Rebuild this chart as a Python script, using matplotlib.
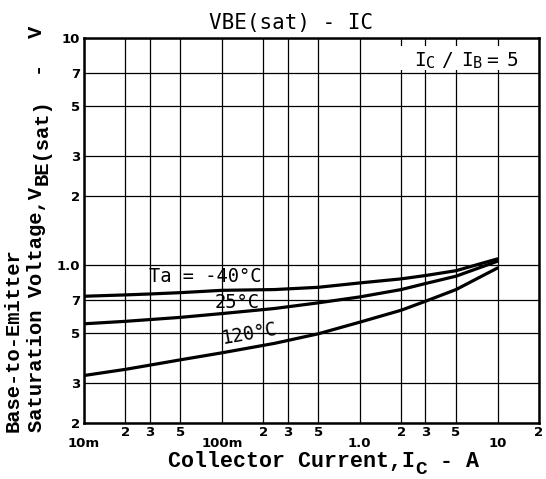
import numpy as np
import matplotlib
matplotlib.use("Agg")
import matplotlib.pyplot as plt
from matplotlib.transforms import IdentityTransform
from matplotlib.patches import Rectangle

# Data
ic = [0.01, 0.02, 0.03, 0.05, 0.1, 0.24, 0.5, 1.0, 2.0, 3.0, 5.0, 10.0]
vbe_m40 = [0.725, 0.735, 0.742, 0.752, 0.770, 0.776, 0.794, 0.830, 0.865, 0.895, 0.940, 1.06]
vbe_25 = [0.548, 0.562, 0.572, 0.585, 0.608, 0.640, 0.678, 0.720, 0.776, 0.825, 0.889, 1.035]
vbe_120 = [0.324, 0.345, 0.360, 0.380, 0.408, 0.449, 0.495, 0.557, 0.629, 0.689, 0.776, 0.966]

x_major = [0.01, 0.1, 1.0, 10.0]
x_major_labels = ["10m", "100m", "1.0", "10"]
x_minor = [0.02, 0.03, 0.05, 0.2, 0.3, 0.5, 2, 3, 5, 20]
x_minor_labels = ["2", "3", "5", "2", "3", "5", "2", "3", "5", "2"]
y_ticks = [0.2, 0.3, 0.5, 0.7, 1.0, 2, 3, 5, 7, 10]
y_labels = ["2", "3", "5", "7", "1.0", "2", "3", "5", "7", "10"]

mono = "Liberation Mono"
thin = "DejaVu Sans Mono"
W, H = 546, 479

fig = plt.figure(figsize=(W/100, H/100), dpi=100)
ax = fig.add_axes([84/W, 1-423/H, (539-84)/W, (423-38)/H])
ax.set_xscale("log")
ax.set_yscale("log")
ax.set_xlim(0.01, 20)
ax.set_ylim(0.2, 10)

for v in x_major + x_minor:
    ax.axvline(v, color="black", lw=0.9, zorder=1)
for v in y_ticks:
    ax.axhline(v, color="black", lw=0.9, zorder=1)

for yv in (vbe_m40, vbe_25, vbe_120):
    ax.plot(ic, yv, color="black", lw=2.3, zorder=3, solid_capstyle="round")

ax.set_xticks(x_major)
ax.set_xticklabels(x_major_labels)
ax.set_xticks(x_minor, minor=True)
ax.set_xticklabels(x_minor_labels, minor=True)
ax.set_yticks(y_ticks)
ax.set_yticklabels(y_labels)
ax.yaxis.set_minor_locator(matplotlib.ticker.NullLocator())
ax.tick_params(axis="x", which="major", length=0, pad=10, labelsize=9.5)
ax.tick_params(axis="x", which="minor", length=0, pad=2, labelsize=9.5)
ax.tick_params(axis="y", which="both", length=0, pad=3, labelsize=9.5)
for lab in ax.get_xticklabels(which="both") + ax.get_yticklabels():
    lab.set_fontweight("bold")
    lab.set_family("DejaVu Sans")

for s in ax.spines.values():
    s.set_linewidth(1.8)
    s.set_zorder(4)

ident = IdentityTransform()

# White box behind the condition label (pixel coords, origin bottom-left)
fig.add_artist(Rectangle((396, H - 70), 141, 24, transform=ident, facecolor="white",
                         edgecolor="none", zorder=5))

def place(x, y, txt, size, family=thin, weight="normal", rotation=0):
    fig.text(x, y, txt, transform=ident, rotation=rotation, rotation_mode="anchor",
             ha="left", va="baseline", fontsize=size, family=family, fontweight=weight,
             color="black", zorder=6)

# Condition label  I_C / I_B = 5
base = H - 66
place(414, base, "I", 14)
place(426, base - 2, "C", 11)
place(441, base, "/", 14)
place(461, base, "I", 14)
place(473, base - 2, "B", 11)
place(486, base, "=", 14)
place(507, base, "5", 14)

# Curve labels
ax.text(0.0296, 0.885, "Ta = -40°C", fontsize=13.5, family=thin, ha="left", va="center",
        zorder=5)
ax.text(0.0888, 0.68, "25°C", fontsize=13.5, family=thin, ha="left", va="center",
        zorder=5)
ax.text(0.0999, 0.472, "120°C", fontsize=13.5, family=thin, ha="left", va="center",
        rotation=10, rotation_mode="anchor", zorder=5)

# Title
fig.text(291/W, 1-23/H, "VBE(sat) - IC", ha="center", va="center",
         fontsize=15, family=thin, color="black")

def seg_text(x0, y0, segments, size, rotation=0):
    """Monospace segments along a baseline: (text, drop_px, start_px or None, size or None)."""
    adv = 0.6 * size * 100 / 72
    pos = 0.0
    for txt, drop, start, ssize in segments:
        if start is not None:
            pos = start
        sz = ssize if ssize else size
        if rotation == 0:
            x, y = x0 + pos, y0 - drop
        else:
            x, y = x0 + drop, y0 + pos
        place(x, y, txt, sz, family=mono, weight="bold", rotation=rotation)
        pos += 0.6 * sz * 100 / 72 * len(txt)

# X label
seg_text(168, H - 467, [("Collector Current,I", 0, None, None), ("C", 7, None, 14),
                        (" - A", 0, None, None)], 15.6)
# Y label (two lines, rotated)
seg_text(19, H - 432, [("Base-to-Emitter", 0, None, None)], 14.8, rotation=90)
seg_text(42, H - 432, [("Saturation Voltage,V", 0, None, None), ("BE(sat)", 6, None, None),
                       ("-", 0, 359, None), ("V", 0, 394, None)], 14.8, rotation=90)

fig.savefig("out.png", dpi=100)
